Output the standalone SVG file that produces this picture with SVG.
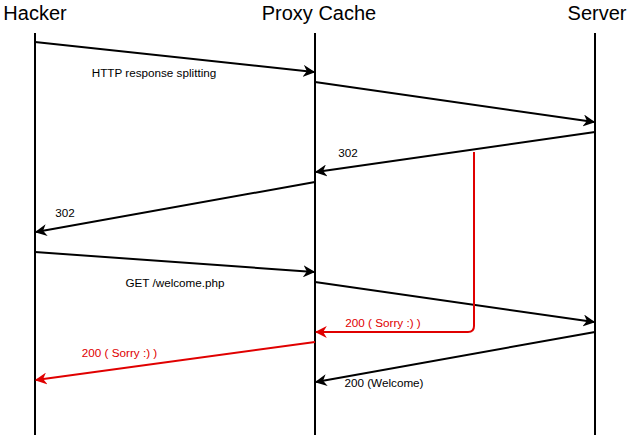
<svg xmlns="http://www.w3.org/2000/svg" width="627" height="435" viewBox="0 0 627 435">
<style>
.t{font-family:"Liberation Sans",Arial,sans-serif;font-size:20px;fill:#000;text-anchor:middle}
.l{font-family:"Liberation Sans",Arial,sans-serif;font-size:11.7px;fill:#000;text-anchor:middle}
.r{fill:#e00000}
.ll{stroke:#000;stroke-width:2;fill:none}
.a{stroke:#000;stroke-width:2;fill:none;marker-end:url(#ab)}
.ar{stroke:#e00000;stroke-width:2;fill:none;marker-end:url(#ar)}
</style>
<defs>
<marker id="ab" viewBox="0 0 10 10" refX="9" refY="5" markerWidth="6" markerHeight="6" markerUnits="strokeWidth" orient="auto">
<path d="M0,0 L10,5 L0,10 L3,5 Z" fill="#000"/>
</marker>
<marker id="ar" viewBox="0 0 10 10" refX="9" refY="5" markerWidth="6" markerHeight="6" markerUnits="strokeWidth" orient="auto">
<path d="M0,0 L10,5 L0,10 L3,5 Z" fill="#e00000"/>
</marker>
</defs>
<rect width="627" height="435" fill="#fff"/>
<g id="hacker">
<text class="t" x="35" y="20">Hacker</text>
<line class="ll" x1="35" y1="33" x2="35" y2="435"/>
</g>
<g id="proxy">
<text class="t" x="319" y="20">Proxy Cache</text>
<line class="ll" x1="315" y1="33" x2="315" y2="435"/>
</g>
<g id="server">
<text class="t" x="597" y="20">Server</text>
<line class="ll" x1="595" y1="33" x2="595" y2="435"/>
</g>
<g id="connectors">
<path class="a" d="M35,42 L314,72"/>
<text class="l" x="154" y="77">HTTP response splitting</text>
<path class="a" d="M315,82 L594,122"/>
<path class="a" d="M595,132 L316,172"/>
<text class="l" x="348" y="157">302</text>
<path class="a" d="M315,182 L36,232"/>
<text class="l" x="65" y="217">302</text>
<path class="a" d="M35,252 L314,272"/>
<text class="l" x="175" y="287">GET /welcome.php</text>
<path class="a" d="M315,282 L594,322"/>
<path class="a" d="M595,332 L316,382"/>
<text class="l" x="384" y="387">200 (Welcome)</text>
<path class="ar" d="M474,152 L474,326 Q474,332 468,332 L316,332"/>
<text class="l r" x="383" y="327">200 ( Sorry :) )</text>
<path class="ar" d="M315,342 L36,380"/>
<text class="l r" x="119.5" y="357">200 ( Sorry :) )</text>
</g>
</svg>
